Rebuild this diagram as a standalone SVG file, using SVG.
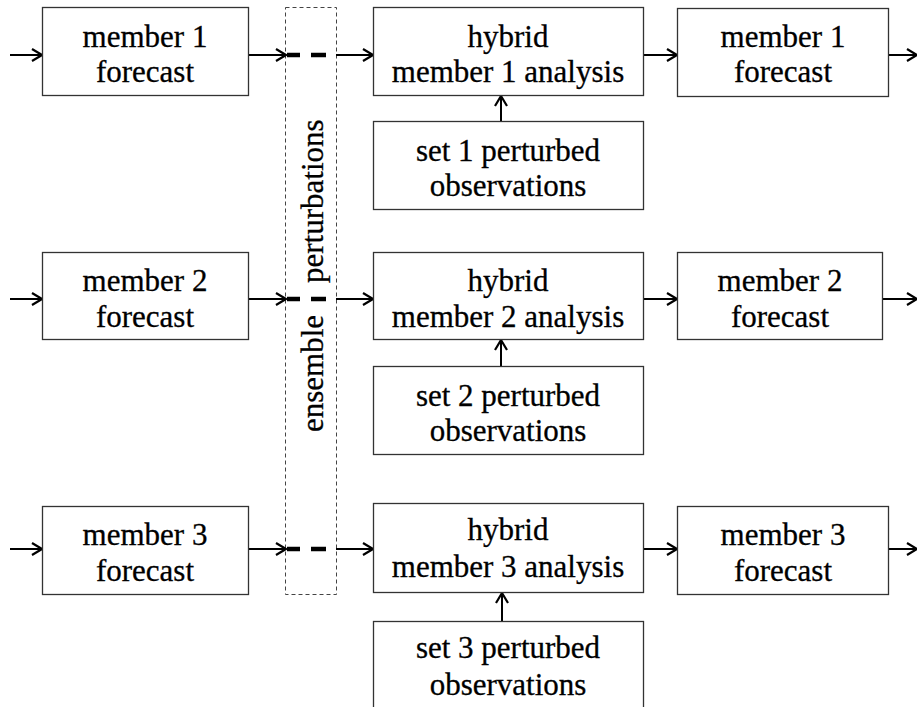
<svg xmlns="http://www.w3.org/2000/svg" width="917" height="707" viewBox="0 0 917 707">
<defs>
<style>
.box{fill:#fff;stroke:#333;stroke-width:1.3}
.t{font-family:'Liberation Serif','Times New Roman',serif;font-size:31px;fill:#000;stroke:#000;stroke-width:0.3;text-anchor:middle}
.c{stroke:#000;stroke-width:2;fill:none}
.th{stroke:#000;stroke-width:4.5;fill:none}
.dash{fill:none;stroke:#444;stroke-width:1;stroke-dasharray:4 3}
</style>
<marker id="ah" viewBox="0 0 12 14" refX="11" refY="7" markerWidth="12" markerHeight="14" markerUnits="userSpaceOnUse" orient="auto">
<path d="M1,1 L11,7 L1,13" fill="none" stroke="#000" stroke-width="2.2"/>
</marker>
</defs>
<rect x="285.5" y="7.5" width="51" height="587" class="dash"/>
<text class="t" transform="translate(323,0) rotate(-90)" style="text-anchor:start"><tspan x="-432" y="0">ensemble</tspan><tspan x="-283" y="0">perturbations</tspan></text>
<g id="connectors">
<line class="c" x1="10" y1="55" x2="42" y2="55" marker-end="url(#ah)"/>
<line class="c" x1="248" y1="55" x2="286" y2="55" marker-end="url(#ah)"/>
<line class="th" x1="287" y1="55" x2="300" y2="55"/>
<line class="th" x1="311" y1="55" x2="326" y2="55"/>
<line class="c" x1="336" y1="55" x2="373" y2="55" marker-end="url(#ah)"/>
<line class="c" x1="643" y1="55" x2="677" y2="55" marker-end="url(#ah)"/>
<line class="c" x1="889" y1="55" x2="917" y2="55" marker-end="url(#ah)"/>
<line class="c" x1="501" y1="121" x2="501" y2="96" marker-end="url(#ah)"/>

<line class="c" x1="10" y1="299" x2="42" y2="299" marker-end="url(#ah)"/>
<line class="c" x1="248" y1="299" x2="286" y2="299" marker-end="url(#ah)"/>
<line class="th" x1="287" y1="299" x2="300" y2="299"/>
<line class="th" x1="311" y1="299" x2="326" y2="299"/>
<line class="c" x1="336" y1="299" x2="373" y2="299" marker-end="url(#ah)"/>
<line class="c" x1="643" y1="299" x2="677" y2="299" marker-end="url(#ah)"/>
<line class="c" x1="882" y1="299" x2="917" y2="299" marker-end="url(#ah)"/>
<line class="c" x1="501" y1="366" x2="501" y2="340" marker-end="url(#ah)"/>

<line class="c" x1="10" y1="549" x2="42" y2="549" marker-end="url(#ah)"/>
<line class="c" x1="248" y1="549" x2="286" y2="549" marker-end="url(#ah)"/>
<line class="th" x1="287" y1="549" x2="300" y2="549"/>
<line class="th" x1="311" y1="549" x2="326" y2="549"/>
<line class="c" x1="336" y1="549" x2="373" y2="549" marker-end="url(#ah)"/>
<line class="c" x1="643" y1="549" x2="677" y2="549" marker-end="url(#ah)"/>
<line class="c" x1="889" y1="549" x2="917" y2="549" marker-end="url(#ah)"/>
<line class="c" x1="502" y1="621" x2="502" y2="593" marker-end="url(#ah)"/>
</g>

<g id="m1f_in"><rect class="box" x="42.5" y="7.5" width="206" height="88"/><text class="t" x="145" y="47">member 1</text><text class="t" x="145" y="82">forecast</text></g>
<g id="h1"><rect class="box" x="373.5" y="7.5" width="270" height="88"/><text class="t" x="508" y="47">hybrid</text><text class="t" x="508" y="82">member 1 analysis</text></g>
<g id="m1f_out"><rect class="box" x="677.5" y="8.5" width="211" height="88"/><text class="t" x="783" y="47">member 1</text><text class="t" x="783" y="82">forecast</text></g>
<g id="o1"><rect class="box" x="373.5" y="121.5" width="270" height="88"/><text class="t" x="508" y="161">set 1 perturbed</text><text class="t" x="508" y="196">observations</text></g>

<g id="m2f_in"><rect class="box" x="42.5" y="252.5" width="206" height="87"/><text class="t" x="145" y="291">member 2</text><text class="t" x="145" y="327">forecast</text></g>
<g id="h2"><rect class="box" x="373.5" y="252.5" width="270" height="87"/><text class="t" x="508" y="291">hybrid</text><text class="t" x="508" y="327">member 2 analysis</text></g>
<g id="m2f_out"><rect class="box" x="677.5" y="252.5" width="205" height="87"/><text class="t" x="780" y="291">member 2</text><text class="t" x="780" y="327">forecast</text></g>
<g id="o2"><rect class="box" x="373.5" y="366.5" width="270" height="88"/><text class="t" x="508" y="406">set 2 perturbed</text><text class="t" x="508" y="441">observations</text></g>

<g id="m3f_in"><rect class="box" x="42.5" y="506.5" width="206" height="88"/><text class="t" x="145" y="545">member 3</text><text class="t" x="145" y="581">forecast</text></g>
<g id="h3"><rect class="box" x="373.5" y="503.5" width="270" height="89"/><text class="t" x="508" y="540">hybrid</text><text class="t" x="508" y="577">member 3 analysis</text></g>
<g id="m3f_out"><rect class="box" x="677.5" y="506.5" width="211" height="88"/><text class="t" x="783" y="545">member 3</text><text class="t" x="783" y="581">forecast</text></g>
<g id="o3"><rect class="box" x="373.5" y="621.5" width="270" height="90"/><text class="t" x="508" y="658">set 3 perturbed</text><text class="t" x="508" y="695">observations</text></g>
</svg>
